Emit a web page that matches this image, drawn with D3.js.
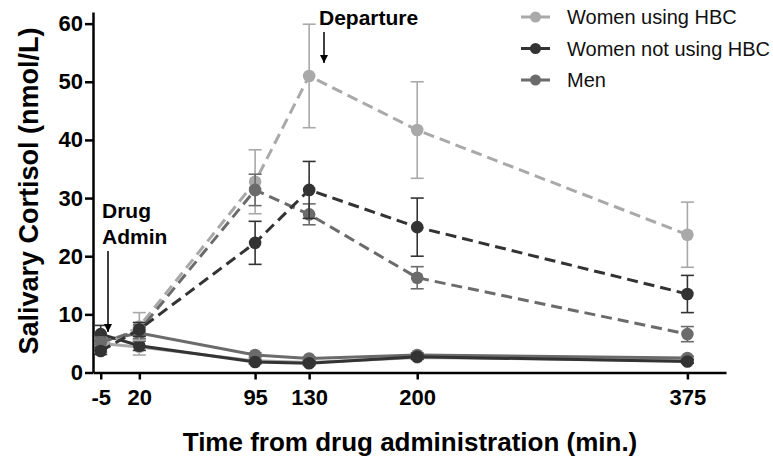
<!DOCTYPE html>
<html>
<head>
<meta charset="utf-8">
<script src="https://cdn.jsdelivr.net/npm/d3@7"></script>
<style>
  body { margin: 0; background: #fff; }
  text { font-family: "Liberation Sans", Arial, sans-serif; }
</style>
</head>
<body>
<div id="chart"></div>
<script>
// ---- data ----
const times = [-5, 20, 95, 130, 200, 375];
const groups = ["Women using HBC", "Women not using HBC", "Men"];
const colors = ["#a9a9a9", "#333333", "#6b6b6b"];

// drug condition (dashed lines)
const hbcDrug = [4.3, 7.9, 32.8, 51.0, 41.7, 23.7];
const hbcDrugErr = [0.8, 2.4, 5.5, 8.9, 8.3, 5.6];
const noHbcDrug = [3.7, 7.4, 22.3, 31.4, 25.0, 13.5];
const noHbcDrugErr = [0.6, 1.2, 3.7, 4.9, 5.0, 3.2];
const menDrug = [5.2, 7.2, 31.4, 27.2, 16.3, 6.6];
const menDrugErr = [0.9, 1.0, 2.7, 1.8, 1.9, 1.3];

// placebo condition (solid lines)
const hbcPlac = [5.0, 4.4, 2.0, 1.7, 2.6, 2.0];
const hbcPlacErr = [0.8, 1.4, 0.3, 0.3, 0.4, 0.3];
const noHbcPlac = [6.6, 4.6, 1.8, 1.6, 2.7, 1.9];
const noHbcPlacErr = [1.5, 0.8, 0.3, 0.3, 0.4, 0.3];
const menPlac = [5.4, 6.8, 3.0, 2.4, 3.0, 2.5];
const menPlacErr = [0.9, 1.0, 0.4, 0.3, 0.4, 0.3];

const yTicks = [0, 10, 20, 30, 40, 50, 60];

const series = [
  {g: 0, dashed: false, mean: hbcPlac, err: hbcPlacErr},
  {g: 2, dashed: false, mean: menPlac, err: menPlacErr},
  {g: 1, dashed: false, mean: noHbcPlac, err: noHbcPlacErr},
  {g: 0, dashed: true, mean: hbcDrug, err: hbcDrugErr},
  {g: 2, dashed: true, mean: menDrug, err: menDrugErr},
  {g: 1, dashed: true, mean: noHbcDrug, err: noHbcDrugErr}
];

// ---- layout ----
const width = 773, height = 462;
const svg = d3.select("#chart").append("svg")
  .attr("width", width)
  .attr("height", height);

const x = d3.scaleLinear().domain([-10, 400]).range([93, 726]);
const y = d3.scaleLinear().domain([0, 62]).range([372.5, 12]);

// axes
const xAxis = svg.append("g")
  .attr("transform", `translate(0,${y(0)})`)
  .call(d3.axisBottom(x).tickValues(times).tickFormat(d => String(d)).tickSize(7).tickPadding(10).tickSizeOuter(0));
const yAxis = svg.append("g")
  .attr("transform", `translate(${x(-10)},0)`)
  .call(d3.axisLeft(y).tickValues(yTicks).tickSize(8).tickPadding(2).tickSizeOuter(0));

[xAxis, yAxis].forEach(a => {
  a.select(".domain").attr("stroke", "#000").attr("stroke-width", 2.5);
  a.selectAll(".tick line").attr("stroke", "#000").attr("stroke-width", 2.5);
  a.selectAll(".tick text")
    .attr("fill", "#000")
    .style("font-size", "22px")
    .style("font-weight", "bold");
});

// axis titles
svg.append("text")
  .attr("x", 410).attr("y", 451)
  .attr("text-anchor", "middle")
  .style("font-size", "26px").style("font-weight", "bold")
  .text("Time from drug administration (min.)");

svg.append("text")
  .attr("transform", `translate(38,191) rotate(-90)`)
  .attr("text-anchor", "middle")
  .style("font-size", "27px").style("font-weight", "bold")
  .text("Salivary Cortisol (nmol/L)");

// series
const line = d3.line().x((d, i) => x(times[i])).y(d => y(d));

series.forEach(s => {
  const c = colors[s.g];
  const grp = svg.append("g");
  // error bars
  s.mean.forEach((m, i) => {
    const cx = x(times[i]);
    const lo = y(m - s.err[i]), hi = y(m + s.err[i]);
    grp.append("line").attr("x1", cx).attr("x2", cx).attr("y1", lo).attr("y2", hi)
      .attr("stroke", c).attr("stroke-width", 1.6);
    [lo, hi].forEach(yy => grp.append("line")
      .attr("x1", cx - 6.5).attr("x2", cx + 6.5).attr("y1", yy).attr("y2", yy)
      .attr("stroke", c).attr("stroke-width", 1.6));
  });
  grp.append("path")
    .datum(s.mean)
    .attr("d", line)
    .attr("fill", "none")
    .attr("stroke", c)
    .attr("stroke-width", 3)
    .attr("stroke-dasharray", s.dashed ? "11,6" : null);
  grp.selectAll("circle")
    .data(s.mean)
    .join("circle")
    .attr("cx", (d, i) => x(times[i]))
    .attr("cy", d => y(d))
    .attr("r", 6.3)
    .attr("fill", c);
});

// arrow marker
svg.append("defs").append("marker")
  .attr("id", "arrow")
  .attr("viewBox", "0 -5 10 10")
  .attr("refX", 10)
  .attr("markerWidth", 8)
  .attr("markerHeight", 8)
  .attr("markerUnits", "userSpaceOnUse")
  .attr("orient", "auto")
  .append("path")
  .attr("d", "M0,-5L10,0L0,5Z")
  .attr("fill", "#000");

// annotations
svg.append("text")
  .attr("x", 319).attr("y", 25)
  .style("font-size", "21px").style("font-weight", "bold")
  .text("Departure");
svg.append("line")
  .attr("x1", 324).attr("x2", 324).attr("y1", 32).attr("y2", 63)
  .attr("stroke", "#000").attr("stroke-width", 1.5)
  .attr("marker-end", "url(#arrow)");

svg.append("text")
  .attr("x", 102).attr("y", 218)
  .style("font-size", "21px").style("font-weight", "bold")
  .text("Drug");
svg.append("text")
  .attr("x", 102).attr("y", 244)
  .style("font-size", "21px").style("font-weight", "bold")
  .text("Admin");
svg.append("line")
  .attr("x1", 108).attr("x2", 108).attr("y1", 251).attr("y2", 332)
  .attr("stroke", "#000").attr("stroke-width", 1.5)
  .attr("marker-end", "url(#arrow)");

// legend
const legend = svg.append("g");
groups.forEach((name, i) => {
  const ly = 17 + i * 31.5;
  legend.append("line")
    .attr("x1", 521).attr("x2", 550).attr("y1", ly).attr("y2", ly)
    .attr("stroke", colors[i]).attr("stroke-width", 3);
  legend.append("circle")
    .attr("cx", 535.5).attr("cy", ly).attr("r", 5.5)
    .attr("fill", colors[i]);
  legend.append("text")
    .attr("x", 567).attr("y", ly + 7)
    .style("font-size", "20px")
    .attr("fill", "#111")
    .text(name);
});
</script>
</body>
</html>
